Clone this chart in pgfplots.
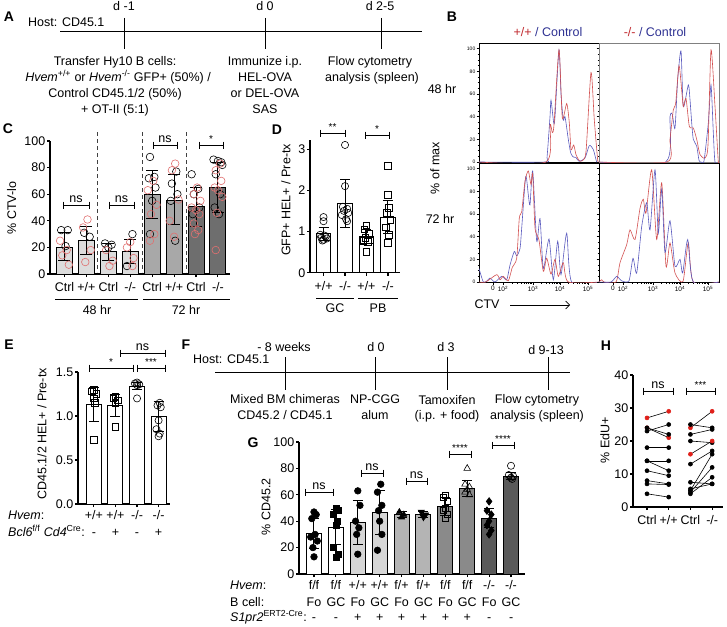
\documentclass[border=0pt]{standalone}
\usepackage{fontspec}
\setmainfont{Liberation Sans}
\usepackage{pgfplots}
\pgfplotsset{compat=1.18}
\usetikzlibrary{arrows.meta}
\definecolor{cA}{HTML}{DCDCDC}
\definecolor{cB}{HTML}{A8A8A8}
\definecolor{cC}{HTML}{6E6E6E}
\definecolor{gA}{HTML}{D6D6D6}
\definecolor{gB}{HTML}{B4B4B4}
\definecolor{gC}{HTML}{8A8A8A}
\definecolor{gD}{HTML}{5A5A5A}
\definecolor{ptred}{HTML}{E07070}
\definecolor{hred}{HTML}{E0201A}
\definecolor{hr}{HTML}{D25050}
\definecolor{hb}{HTML}{5A5ABE}
\definecolor{tred}{HTML}{C0282D}
\definecolor{tblue}{HTML}{2E3192}
\def\capsz{5pt}
\newcommand{\bbar}[5]{\addplot[ybar, bar shift=0pt, fill=#2, draw=black, line width=1pt, error bars/.cd, y dir=both, y explicit, error bar style={line width=1pt, black}, error mark options={rotate=90, mark size=\capsz, line width=1pt, black}] coordinates {(#1,#3) += (0,#4) -= (0,#5)};}
\newcommand{\sig}[4]{\draw[line width=0.9pt] (#1,#3) -- (#2,#3) (#1,#3-3.5) -- (#1,#3+3.5) (#2,#3-3.5) -- (#2,#3+3.5); \node[anchor=south, inner sep=1pt] at ({(#1+#2)/2},#3-1.5) {#4};}
\newcommand{\stars}[1]{{\fontsize{10}{10}\selectfont #1}}
\pgfplotsset{
  bp/.style={scale only axis, clip=false, anchor=south west, axis x line*=bottom, axis y line*=left,
    axis line style={line width=1.1pt}, every tick/.style={black, line width=1.1pt},
    major tick length=3pt, tick align=outside, ymin=0,
    tick label style={font=\fontsize{12.5}{12.5}\selectfont}, yticklabel style={inner sep=1.5pt},
    xticklabel style={inner sep=0pt, text height=9pt, text depth=2.5pt}},
  hist/.style={scale only axis, anchor=south west, width=120pt, height=119pt, xmin=0, xmax=120, ymin=0, ymax=105,
    axis line style={line width=0.6pt}, ytick={0,20,...,100}, minor y tick num=3, ytick pos=left, xtick pos=bottom,
    every tick/.style={black, line width=0.4pt}, major tick length=2.5pt, minor tick length=1.5pt, tick align=outside,
    yticklabel style={font=\fontsize{5}{5}\selectfont, inner sep=1pt}, xticklabel style={font=\fontsize{6.5}{6.5}\selectfont, inner sep=1.5pt}},
  hbot/.style={xtick={14,24,54,81,109}, xticklabels={0,10\textsuperscript{2},10\textsuperscript{3},10\textsuperscript{4},10\textsuperscript{5}},
    minor xtick={33,38.3,42,45,47.3,49.4,51.1,52.6,62.1,66.9,70.3,72.9,75,76.8,78.4,79.8,89.4,94.4,97.9,100.6,102.8,104.7,106.3,107.7}},
  htop/.style={xtick=\empty},
  rc/.style={hr, line width=0.6pt, smooth, tension=0.4, mark=none},
  bc/.style={hb, line width=0.6pt, smooth, tension=0.4, mark=none},
  pk/.style={only marks, black, line width=0.6pt},
  pr/.style={only marks, ptred, line width=0.6pt},
  hp/.style={black, line width=0.6pt, mark=*, mark size=2pt},
  hq/.style={black, line width=0.6pt, mark=*, mark size=2pt, mark options={fill=hred, draw=hred}},
}
\begin{document}
\begin{tikzpicture}[x=1pt, y=-1pt, font=\fontsize{12.5}{15}\selectfont, t/.style={inner sep=0pt, text height=9pt, text depth=2.5pt}, pl/.style={font=\fontsize{14}{14}\selectfont\bfseries, inner sep=0pt}]
\path[use as bounding box] (0,0) rectangle (727,626);
% ---------- panel letters
\node[pl] at (9,17) {A};
\node[pl] at (452,17) {B};
\node[pl] at (8,129) {C};
\node[pl] at (277,130) {D};
\node[pl] at (9,345) {E};
\node[pl] at (186,345) {F};
\node[pl] at (253,443) {G};
\node[pl] at (606,346) {H};
% ---------- panel A
\node[t, anchor=west] at (28,23) {Host: CD45.1};
\draw[line width=1pt] (60,32) -- (422,32);
\foreach \xx in {124,265,381} \draw[line width=1pt] (\xx,18) -- (\xx,49);
\node[t] at (124,7) {d -1};
\node[t] at (265,7) {d 0};
\node[t] at (380,7) {d 2-5};
\node[t] at (115,62) {Transfer Hy10 B cells:};
\node[t] at (118,78) {\textit{Hvem}\textsuperscript{+/+} or \textit{Hvem}\textsuperscript{-/-} GFP+ (50\%) /};
\node[t] at (115,94) {Control CD45.1/2 (50\%)};
\node[t] at (115,110) {+ OT-II (5:1)};
\node[t] at (265,62) {Immunize i.p.};
\node[t] at (265,78) {HEL-OVA};
\node[t] at (265,94) {or DEL-OVA};
\node[t] at (265,110) {SAS};
\node[t] at (370,62) {Flow cytometry};
\node[t] at (372,78) {analysis (spleen)};
% ---------- panel B
\node[t] at (548,33) {\textcolor{tred}{+/+} \textcolor{tblue}{/ Control}};
\node[t] at (655,33) {\textcolor{tred}{-/-} \textcolor{tblue}{/ Control}};
\node[t] at (442,90) {48 hr};
\node[t] at (440,220) {72 hr};
\node[t, rotate=90] at (436,168) {\% of max};
\node[t] at (487,305) {CTV};
\draw[-{Straight Barb[length=4pt]}, line width=0.6pt] (510,305) -- (570,305);
\begin{axis}[hist, htop, at={(479pt,-162pt)}, yticklabels={0,20,40,60,80,100}]
\addplot[bc] coordinates {(0,0)(66,0)(68,4)(71,40)(72,54.6)(74.7,34.5)(76,40)(80,99)(82,60)(84.3,37)(86,40)(89.3,20)(91.7,8)(94.3,4.4)(97,4)(100,0.6)(106,3.5)(110.3,14.5)(114.3,11)(117.7,0)(120,0)};
\addplot[rc] coordinates {(0,0)(67,0)(71,33)(73.3,26)(75,33)(80,99)(83.3,39)(87.7,51.6)(90.3,34.5)(92,11)(94.7,15)(97,6.5)(100,1.5)(103,1)(107,9.4)(112,79)(115.3,37)(118.7,1.5)(120,0)};
\end{axis}
\begin{axis}[hist, htop, at={(599pt,-162pt)}, yticklabels={}, axis line style={gray, line width=0.6pt}]
\addplot[bc] coordinates {(0,0)(66.7,0)(71,40)(73.3,42)(76,30)(78.7,73)(82,98)(84.3,49)(89.3,68)(91,55)(92.7,34.5)(94.3,20)(97.7,14)(100,1.5)(102,0)(105,1)(109.3,34.5)(112,68)(114.3,26)(116,0)(120,0)};
\addplot[rc] coordinates {(0,0)(68,0)(71,20)(74.3,46)(76.7,52)(80,85)(83,60)(84.3,49)(87,56)(90.3,31.5)(94.3,30)(97.7,20)(101,6.5)(106,3.5)(109,15)(112,99)(116,49)(119.3,0)(120,0)};
\end{axis}
\begin{axis}[hist, hbot, at={(479pt,-282pt)}, yticklabels={0,20,40,60,80,100}]
\addplot[bc] coordinates {(0,12)(4.3,0)(8,1)(11,3.5)(16,0)(22.7,5)(27.7,2)(31,15)(35.3,27)(37.7,23)(41,29.4)(42.7,47.6)(46.7,93)(49.3,77)(51,68)(53.7,98)(57.7,36)(61,56)(64.3,12)(70,38)(74.3,2)(78.7,36)(82,6.5)(87.7,43)(92.7,0)(120,0)};
\addplot[rc] coordinates {(0,0)(6.7,0)(17.7,6.5)(21,2)(24.3,5)(29.3,1)(33.3,13)(37.7,21)(40.3,56.5)(42.7,62)(46,89)(49.3,98)(52,86)(53.7,95)(56,47.6)(60,37)(64.3,9.4)(67.7,21)(72,7)(76,20)(79.3,5)(84.3,17)(89.3,0)(120,0)};
\end{axis}
\begin{axis}[hist, hbot, at={(599pt,-282pt)}, yticklabels={}]
\addplot[rc] coordinates {(0,0)(2.7,2)(5,0)(17,0)(21,17)(27.7,33)(31,46)(36,37.5)(41,65)(44.3,73)(47,61)(52.7,99)(57.7,37.5)(62.7,87.6)(67,14)(71,34.5)(76,8)(84,0.5)(89.3,34.5)(94.3,0)(120,0)};
\addplot[bc] coordinates {(0,0)(12,0)(17.7,5)(22.7,1)(30,1)(34,21)(37.7,8)(42.7,49)(47.7,70)(51,46)(56,99)(59.3,43)(62.7,82)(66,26)(71,54)(76,14)(81,20)(83.7,8)(88.7,37.5)(94.3,0)(120,0)};
\end{axis}
% ---------- panel C
\def\capsz{6pt}
\begin{axis}[bp, at={(50pt,-274pt)}, width=180pt, height=133pt, xmin=-0.66, xmax=7.55, ymax=100, xtick={0,...,7}, xticklabels={Ctrl,+/+,Ctrl,-/-,Ctrl,+/+,Ctrl,-/-}, xticklabel style={yshift=-5pt}, ytick={0,20,...,100}, yticklabels={0,20,40,60,80,100}, bar width=16pt]
\bbar{0}{cA}{20}{11}{10}
\bbar{1}{cA}{25.5}{10.5}{10.5}
\bbar{2}{cA}{17}{6}{7}
\bbar{3}{cA}{17}{9}{9}
\bbar{4}{cB}{60}{18}{18}
\bbar{5}{cB}{55.5}{19.5}{18.5}
\bbar{6}{cC}{50.5}{14.5}{14.5}
\bbar{7}{cC}{65}{19}{19}
\addplot[pk, mark=o, mark size=3.8pt] coordinates {(-0.15,33)(0.15,33)(0.05,21)(0.9,31)(1.15,28)(1.85,23)(2.15,22)(2,20)(3.1,30)(2.85,6)(3.9,88)(4.1,73)(3.85,72)(4.15,65)(4,55)(3.9,30)(5.1,77)(4.9,68)(5.15,60)(4.85,55)(5.05,25)(5.8,75)(6.1,64)(5.9,60)(6.15,50)(5.85,45)(6.8,86)(7,85)(7.15,84)(7.2,82)(6.9,75)(7.1,60)(6.85,50)(7.05,45)};
\addplot[pr, mark=o, mark size=3.8pt] coordinates {(-0.2,25)(0.1,18)(-0.1,14)(0.2,7)(1.05,41)(0.85,35)(1.2,18)(0.95,9)(1.9,18)(2.2,10)(2.05,6)(3,24)(2.85,20)(3.15,12)(3.1,6)(4.05,70)(3.8,63)(4.2,52)(3.95,45)(4.1,30)(3.9,25)(5.05,83)(4.9,78)(5.2,56)(4.8,40)(5,28)(6.05,65)(5.9,60)(6.2,55)(5.8,50)(6,48)(6.15,45)(5.9,38)(6.1,33)(5.95,30)(7.1,83)(6.9,78)(7.15,70)(6.85,65)(7,63)(7.2,58)(6.95,46)(6.9,18)};
\end{axis}
\foreach \xx in {97,142,186} \draw[black!75, line width=0.9pt, dash pattern=on 4pt off 3pt] (\xx,132) -- (\xx,272);
\node[t, rotate=90] at (13,208) {\% CTV-lo};
\draw[line width=0.8pt] (55,299) -- (138,299) (143,299) -- (230,299);
\node[t] at (97,311) {48 hr};
\node[t] at (186,311) {72 hr};
\sig{63}{89}{205}{ns}
\sig{109}{134}{205}{ns}
\sig{153}{177}{145}{ns}
\sig{199}{223}{145}{\stars{*}}
% ---------- panel D
\def\capsz{5pt}
\begin{axis}[bp, at={(310pt,-272.7pt)}, width=90pt, height=132.7pt, xmin=-0.63, xmax=3.56, ymax=3.22, xtick={0,...,3}, xticklabels={+/+,-/-,+/+,-/-}, xticklabel style={yshift=-6pt}, ytick={0,1,2,3}, yticklabels={0,1,2,3}, bar width=14.5pt]
\bbar{0}{white}{0.95}{0.15}{0.17}
\bbar{1}{white}{1.67}{0.58}{0.57}
\bbar{2}{white}{0.88}{0.17}{0.16}
\bbar{3}{white}{1.35}{0.4}{0.4}
\addplot[pk, mark=o, mark size=3.6pt] coordinates {(0,1.35)(0,1.25)(-0.15,0.92)(0.1,0.88)(-0.1,0.85)(0.15,0.83)(0,0.8)(-0.05,0.78)(0.05,0.9)(1,3.1)(1,2.1)(0.9,1.6)(1.1,1.55)(0.95,1.5)(1.15,1.45)(0.85,1.4)(1.05,1.3)(1.1,1.25)};
\addplot[pk, mark=square, mark size=3.3pt] coordinates {(2,1.15)(1.9,1.05)(2.1,0.95)(1.95,0.85)(2.15,0.8)(1.85,0.78)(2.05,0.75)(2,0.5)(3,2.6)(3,1.89)(3.05,1.57)(2.95,1.45)(3.1,1.28)(2.9,1.1)(3.05,0.92)(3,0.72)};
\end{axis}
\node[t, rotate=90] at (287,200) {GFP+ HEL+ / Pre-tx};
\draw[line width=0.8pt] (316,298) -- (354,298) (358,298) -- (398,298);
\node[t] at (335,309) {GC};
\node[t] at (378,309) {PB};
\sig{320}{345}{133}{\stars{**}}
\sig{365}{389}{135}{\stars{*}}
% ---------- panel E
\def\capsz{5pt}
\begin{axis}[bp, at={(78pt,-504pt)}, width=92pt, height=132pt, xmin=-0.74, xmax=3.53, ymax=1.5, xtick={0,...,3}, xticklabels={+/+,+/+,-/-,-/-}, xticklabel style={yshift=-3pt}, ytick={0,0.5,1,1.5}, yticklabels={0.0,0.5,1.0,1.5}, bar width=15pt]
\bbar{0}{white}{1.13}{0.19}{0.19}
\bbar{1}{white}{1.12}{0.12}{0.12}
\bbar{2}{white}{1.34}{0.04}{0.04}
\bbar{3}{white}{0.99}{0.17}{0.17}
\addplot[pk, mark=square, mark size=3.3pt] coordinates {(0,1.3)(-0.1,1.28)(0.1,1.25)(0,1.2)(0.05,1.15)(0,0.73)(1,1.22)(0.9,1.2)(1.1,1.18)(1,1.15)(1,0.88)};
\addplot[pk, mark=o, mark size=3.6pt] coordinates {(2,1.38)(1.9,1.37)(2.1,1.36)(2,1.35)(2,1.2)(3.05,1.15)(2.95,1.12)(3.1,1.1)(3,0.95)(2.9,0.85)(3.05,0.8)(3,0.77)};
\end{axis}
\node[t, rotate=90] at (43,434) {CD45.1/2 HEL+ / Pre-tx};
\node[t, anchor=west] at (8,516) {\textit{Hvem}:};
\node[t, anchor=west] at (8,533) {\textit{Bcl6}\textsuperscript{f/f} \textit{Cd4}\textsuperscript{Cre}:};
\foreach \l [count=\i from 0] in {-,+,-,+} \node[t] at (94+21.5*\i,533) {\l};
\sig{89}{133}{368}{\stars{*}}
\sig{137}{165}{368}{\stars{***}}
\sig{120}{165}{353}{ns}
% ---------- panel F
\node[t, anchor=west] at (193,360) {Host: CD45.1};
\draw[line width=1pt] (215,372) -- (570,372);
\foreach \xx in {285,375,447,548} \draw[line width=1pt] (\xx,357) -- (\xx,390);
\node[t] at (284,348) {- 8 weeks};
\node[t] at (376,348) {d 0};
\node[t] at (446,348) {d 3};
\node[t] at (546,351) {d 9-13};
\node[t] at (285,400) {Mixed BM chimeras};
\node[t] at (285,416) {CD45.2 / CD45.1};
\node[t] at (375,400) {NP-CGG};
\node[t] at (375,416) {alum};
\node[t] at (447,401) {Tamoxifen};
\node[t] at (447,416) {(i.p. + food)};
\node[t] at (537,400) {Flow cytometry};
\node[t] at (537,416) {analysis (spleen)};
% ---------- panel G
\def\capsz{5pt}
\begin{axis}[bp, at={(299pt,-574pt)}, width=226pt, height=132pt, xmin=-0.685, xmax=9.64, ymax=100, xtick={0,...,9}, xticklabels={f/f,f/f,+/+,+/+,f/+,f/+,f/f,f/f,-/-,-/-}, xticklabel style={yshift=-3pt}, ytick={0,20,...,100}, yticklabels={0,20,40,60,80,100}, bar width=15pt]
\bbar{0}{white}{30.5}{11.5}{11.5}
\bbar{1}{white}{35.5}{13.5}{13.5}
\bbar{2}{gA}{39}{17}{17}
\bbar{3}{gA}{46.5}{16.5}{16.5}
\bbar{4}{gB}{45}{2}{2}
\bbar{5}{gB}{45}{2}{2}
\bbar{6}{gC}{51}{7}{7}
\bbar{7}{gC}{65}{6}{6}
\bbar{8}{gD}{42}{8}{7}
\bbar{9}{gD}{74}{3}{2.5}
\addplot[pk, mark=*, mark size=3.3pt] coordinates {(0,47)(0.1,45)(-0.1,42)(0.05,30)(-0.15,28)(0.15,25)(-0.05,20)(0,13)(2,63)(2.1,52)(1.9,40)(2.05,35)(1.95,30)(2,15)(3.05,68)(2.9,62)(3.1,52)(2.95,48)(3,40)(3.1,30)(2.9,18)};
\addplot[pk, mark=square*, mark size=3pt] coordinates {(1,50)(1.1,48)(0.9,45)(1.05,40)(1,37)(0.9,20)(1.1,15)(1,13)};
\addplot[pk, mark=triangle*, mark size=3.5pt] coordinates {(3.9,47)(4.1,45)(4,43)};
\addplot[pk, mark=triangle*, mark size=3.5pt, mark options={rotate=180}] coordinates {(4.9,47)(5.1,45)(5,43)};
\addplot[pk, mark=square, mark size=3pt] coordinates {(6,60)(5.9,58)(6.1,55)(6,50)(5.9,48)(6.1,45)(6,42)};
\addplot[pk, mark=triangle, mark size=3.8pt] coordinates {(7,80)(6.9,68)(7.1,66)(7,64)(6.9,62)(7.1,60)};
\addplot[pk, mark=diamond*, mark size=3.8pt] coordinates {(8,55)(7.9,48)(8.1,45)(8,40)(7.9,37)(8.1,33)(8,30)};
\addplot[pk, mark=o, mark size=3.6pt] coordinates {(9,82)(8.9,75)(9.1,74)(9,73)(9.05,72)};
\end{axis}
\node[t, rotate=90] at (267,507) {\% CD45.2};
\node[t, anchor=west] at (230,586) {\textit{Hvem}:};
\node[t, anchor=west] at (230,603) {B cell:};
\node[t, anchor=west] at (230,618) {\textit{S1pr2}\textsuperscript{ERT2-Cre}:};
\foreach \l [count=\i from 0] in {Fo,GC,Fo,GC,Fo,GC,Fo,GC,Fo,GC} \node[t] at (314+21.9*\i,603) {\l};
\foreach \l [count=\i from 0] in {-,-,+,+,+,+,+,+,-,-} \node[t] at (314+21.9*\i,618) {\l};
\sig{305}{333}{492}{ns}
\sig{361}{383}{473}{ns}
\sig{406}{427}{481}{ns}
\sig{449}{471}{454}{\stars{****}}
\sig{492}{514}{445}{\stars{****}}
% ---------- panel H
\begin{axis}[bp, at={(633pt,-507pt)}, width=90pt, height=132pt, xmin=-0.645, xmax=3.5, ymax=40, xtick={0,...,3}, xticklabels={Ctrl,+/+,Ctrl,-/-}, xticklabel style={yshift=-5pt}, ytick={0,10,...,40}, yticklabels={0,10,20,30,40}]
\addplot[hq] coordinates {(0,27)(1,29)};
\addplot[hq] coordinates {(0,24)(1,21)};
\addplot[hp] coordinates {(0,24)(1,22)};
\addplot[hp] coordinates {(0,23)(1,25)};
\addplot[hp] coordinates {(0,18)(1,18)};
\addplot[hp] coordinates {(0,14)(1,14)};
\addplot[hp] coordinates {(0,14)(1,11)};
\addplot[hp] coordinates {(0,11)(1,9.5)};
\addplot[hp] coordinates {(0,8)(1,7)};
\addplot[hp] coordinates {(0,7)(1,6.8)};
\addplot[hp] coordinates {(0,4)(1,3)};
\addplot[hq] coordinates {(2,24)(3,29)};
\addplot[hp] coordinates {(2,25)(3,24)};
\addplot[hp] coordinates {(2,22)(3,23.5)};
\addplot[hp] coordinates {(2,20)(3,19.5)};
\addplot[hq] coordinates {(2,16)(3,20)};
\addplot[hp] coordinates {(2,13)(3,17)};
\addplot[hp] coordinates {(2,7.5)(3,7)};
\addplot[hp] coordinates {(2,5)(3,16)};
\addplot[hp] coordinates {(2,4.5)(3,12)};
\addplot[hp] coordinates {(2,4)(3,9)};
\addplot[hp] coordinates {(2,5.5)(3,7)};
\end{axis}
\node[t, rotate=90] at (606,440) {\% EdU+};
\sig{643}{673}{391}{ns}
\sig{686}{715}{391}{\stars{***}}
\end{tikzpicture}
\end{document}
